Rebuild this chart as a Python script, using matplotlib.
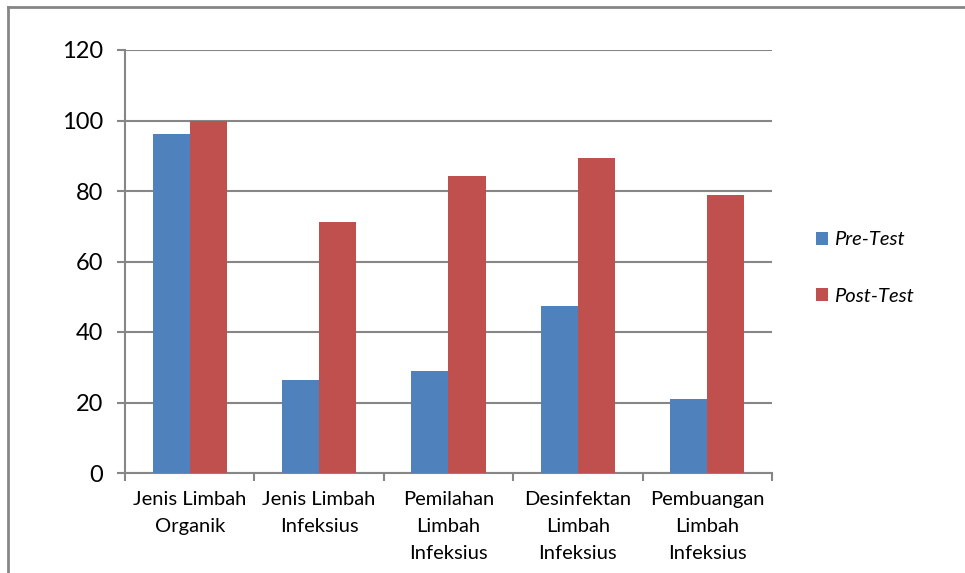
import matplotlib
matplotlib.use("Agg")
import matplotlib.pyplot as plt
import numpy as np
from matplotlib.lines import Line2D

plt.rcParams['font.family'] = ['Lato', 'DejaVu Sans']

categories = ["Jenis Limbah\nOrganik", "Jenis Limbah\nInfeksius",
              "Pemilahan\nLimbah\nInfeksius", "Desinfektan\nLimbah\nInfeksius",
              "Pembuangan\nLimbah\nInfeksius"]
pre_test = [96.1, 26.3, 28.9, 47.4, 21.1]
post_test = [100, 71.1, 84.2, 89.5, 78.9]
yticks = [0, 20, 40, 60, 80, 100, 120]

blue = "#4F81BD"
red = "#C0504D"
grid_col = "#868686"

fig = plt.figure(figsize=(9.65, 5.73), dpi=100)
ax = fig.add_axes([125/965, 1-473/573, (772-125)/965, (473-50)/573])

x = np.arange(len(categories))
w = 0.286
ax.bar(x - w/2, pre_test, w, color=blue, label="Pre-Test", zorder=3)
ax.bar(x + w/2, post_test, w, color=red, label="Post-Test", zorder=3)

ax.set_xlim(-0.5, len(categories) - 0.5)
ax.set_ylim(0, 120)
ax.set_yticks(yticks)
ax.set_yticklabels([str(t) for t in yticks], fontsize=17)
ax.yaxis.grid(True, color=grid_col, linewidth=1.5, zorder=0)
ax.tick_params(axis='y', length=6, width=1.5, color=grid_col, pad=10)

ax.set_xticks(x)
ax.set_xticklabels(categories, fontsize=14.5, linespacing=1.7)
ax.set_xticks(np.arange(-0.5, len(categories)), minor=True)
ax.tick_params(axis='x', which='major', length=0, pad=13)
ax.tick_params(axis='x', which='minor', length=6, width=1.5, color=grid_col)

for s in ['top', 'right']:
    ax.spines[s].set_visible(False)
for s in ['left', 'bottom']:
    ax.spines[s].set_color(grid_col)
    ax.spines[s].set_linewidth(1.5)

leg = ax.legend(loc='center left', bbox_to_anchor=(798/965, 1-268/573),
                bbox_transform=fig.transFigure, frameon=False,
                prop={'style': 'italic', 'size': 14.5},
                handlelength=0.6, handleheight=0.6, handletextpad=0.3,
                labelspacing=1.95)

# outer frame (only top and left visible)
fig.add_artist(Line2D([8/965, 1], [1-7/573, 1-7/573], color=grid_col, linewidth=2,
                      transform=fig.transFigure))
fig.add_artist(Line2D([8/965, 8/965], [0, 1-7/573], color=grid_col, linewidth=2,
                      transform=fig.transFigure))

fig.savefig("out.png", dpi=100)
